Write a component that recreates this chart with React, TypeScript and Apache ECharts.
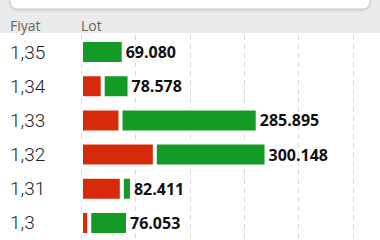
import React, { useEffect, useRef } from "react";
import * as echarts from "echarts";

const prices = ["1,35", "1,34", "1,33", "1,32", "1,31", "1,3"];
const redLots: (number | null)[] = [null, 35100, 63900, 119400, 66000, 13300];
const greenLots = [69080, 43478, 221995, 180748, 16411, 62753];
const headerLabels = ["Fiyat", "Lot"];

const fmt = (n: number) => String(Math.round(n)).replace(/\B(?=(\d{3})+(?!\d))/g, ".");

export default function App() {
  const ref = useRef<HTMLDivElement>(null);
  useEffect(() => {
    if (!ref.current) return;
    const chart = echarts.init(ref.current, null, { renderer: "svg" });
    chart.setOption({
      animation: false,
      backgroundColor: "#ffffff",
      graphic: [
        { type: "rect", left: 0, top: 0, shape: { width: 380, height: 33 }, style: { fill: "#ebebeb" }, z: -10 },
        {
          type: "rect",
          shape: { x: 10, y: -30, width: 360, height: 39, r: 7 },
          style: { fill: "#ffffff", stroke: "#c8c8c8", lineWidth: 1, shadowBlur: 2, shadowColor: "rgba(0,0,0,0.15)", shadowOffsetY: 1 },
          z: -5,
        },
        { type: "text", x: 10, y: 25, style: { text: headerLabels[0], fill: "#666", font: "14px 'Open Sans'", verticalAlign: "middle" } },
        { type: "text", x: 81, y: 25, style: { text: headerLabels[1], fill: "#666", font: "14px 'Open Sans'", verticalAlign: "middle" } },
      ],
      grid: { left: 81, top: 35, width: 272, height: 216 },
      xAxis: {
        type: "value",
        min: 0,
        max: 440000,
        interval: 88000,
        axisLine: { show: false },
        axisTick: { show: false },
        axisLabel: { show: false },
        splitLine: { show: true, lineStyle: { color: "#d9d9d9", type: [5, 4], width: 1 } },
      },
      yAxis: {
        type: "category",
        inverse: true,
        data: prices,
        axisLine: { show: false },
        axisTick: { show: false },
        axisLabel: {
          align: "left",
          margin: 71,
          color: "#222",
          fontFamily: "Roboto",
          fontWeight: 300,
          fontSize: 19,
        },
      },
      series: [
        {
          type: "bar",
          stack: "lot",
          data: redLots,
          barWidth: 24,
          itemStyle: { color: "#d62a0b", borderColor: "#ffffff", borderWidth: 2 },
        },
        {
          type: "bar",
          stack: "lot",
          data: greenLots,
          barWidth: 24,
          itemStyle: { color: "#149a27", borderColor: "#ffffff", borderWidth: 2 },
          label: {
            show: true,
            position: "right",
            distance: 2,
            color: "#111",
            fontFamily: "Open Sans",
            fontWeight: 700,
            fontSize: 16,
            formatter: (p: any) => fmt((redLots[p.dataIndex] || 0) + greenLots[p.dataIndex]),
          },
        },
      ],
    });
    return () => chart.dispose();
  }, []);
  return (
    <div style={{ position: "fixed", left: 0, top: 0, width: 380, height: 240 }}>
      <div ref={ref} style={{ width: 380, height: 240 }} />
    </div>
  );
}
